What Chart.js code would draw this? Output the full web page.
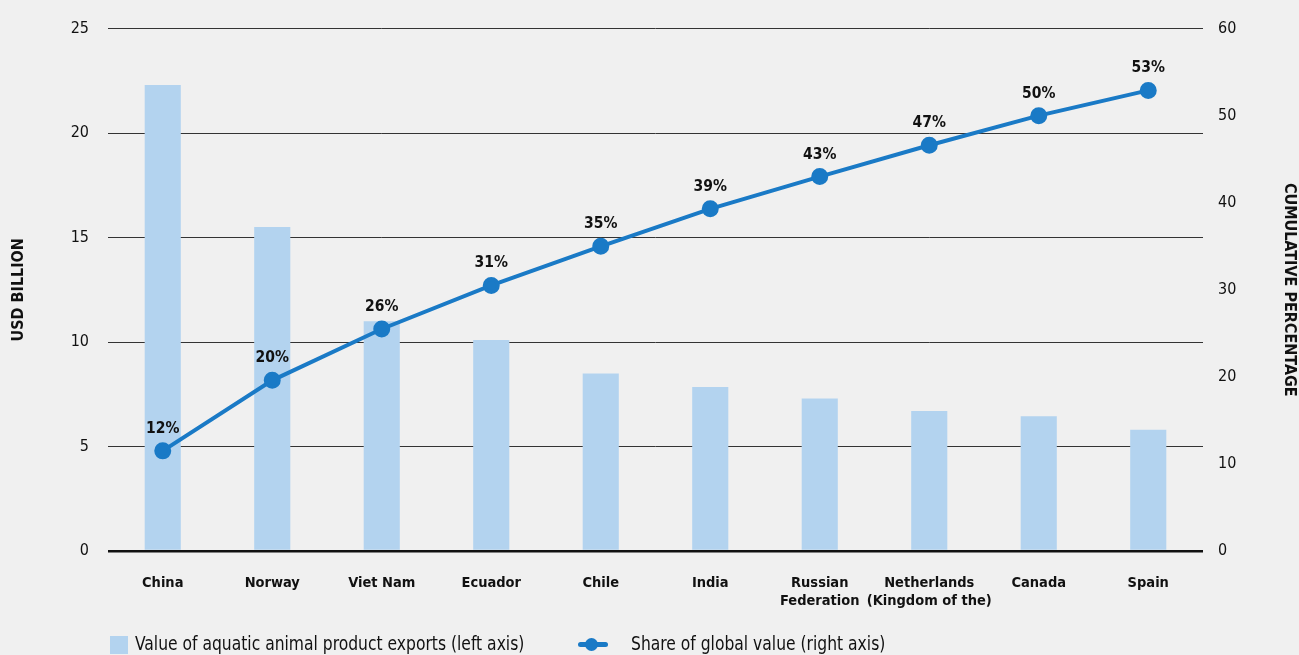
<!DOCTYPE html>
<html>
<head>
<meta charset="utf-8">
<script src="https://cdn.jsdelivr.net/npm/chart.js@4.4.1/dist/chart.umd.min.js"></script>
<style>
  html, body { margin: 0; padding: 0; background: #f0f0f0; }
  #wrap { position: relative; width: 1299px; height: 655px; overflow: hidden; }
  #legend { position: absolute; left: 0; top: 632px; width: 1299px; height: 23px;
    font-family: 'Liberation Sans Narrow', 'DejaVu Sans Condensed', 'Roboto', sans-serif;
    font-size: 19px; color: #111; }
  .item { position: absolute; top: 0; white-space: nowrap; line-height: 23px;
    transform: scaleX(0.91); transform-origin: left center; }
  .box { position: absolute; width: 18px; height: 18px; background: #b3d3ef; top: 4px; }
  .ln { position: absolute; width: 30px; height: 5px; background: #1a7ac6; top: 10px; border-radius: 3px; }
  .dot { position: absolute; width: 13px; height: 13px; border-radius: 50%; background: #1a7ac6; top: 6px; }
</style>
</head>
<body>
<div id="wrap">
  <canvas id="exportsChart" width="1299" height="655"></canvas>
  <div id="legend">
    <div class="box" style="left:110px"></div>
    <div class="item" style="left:135px">Value of aquatic animal product exports (left axis)</div>
    <div class="ln" style="left:578px"></div>
    <div class="dot" style="left:585px"></div>
    <div class="item" style="left:631px">Share of global value (right axis)</div>
  </div>
</div>
<script>
const countries = ["China", "Norway", "Viet Nam", "Ecuador", "Chile", "India",
    ["Russian", "Federation"], ["Netherlands", "(Kingdom of the)"], "Canada", "Spain"];
const exportValues = [22.3, 15.5, 11.0, 10.1, 8.5, 7.85, 7.3, 6.7, 6.45, 5.8];
const cumulativeShare = [11.5, 19.6, 25.5, 30.5, 35.0, 39.3, 43.0, 46.6, 50.0, 52.9];
const shareLabels = ["12%", "20%", "26%", "31%", "35%", "39%", "43%", "47%", "50%", "53%"];
const leftTicks = [0, 5, 10, 15, 20, 25];
const rightTicks = [0, 10, 20, 30, 40, 50, 60];

const FONT = "'Liberation Sans Narrow', 'DejaVu Sans Condensed', 'Roboto', sans-serif";

// labels above the line points
const pointLabels = {
    id: "pointLabels",
    afterDatasetsDraw(chart) {
        const meta = chart.getDatasetMeta(0);
        const c = chart.ctx;
        c.save();
        c.font = "bold 15.5px " + FONT;
        c.fillStyle = "#111";
        c.textAlign = "center";
        c.textBaseline = "middle";
        meta.data.forEach((pt, i) => {
            c.fillText(shareLabels[i], pt.x, pt.y - 22);
        });
        c.restore();
    },
};

const ctx = document.getElementById("exportsChart").getContext("2d");
const exportsChart = new Chart(ctx, {
    data: {
        labels: countries,
        datasets: [
            {
                type: "line",
                label: "Share of global value (right axis)",
                data: cumulativeShare,
                yAxisID: "y1",
                borderColor: "#1a7ac6",
                backgroundColor: "#1a7ac6",
                borderWidth: 4,
                pointRadius: 6.5,
                pointHoverRadius: 6.5,
                tension: 0,
                order: 0,
            },
            {
                type: "bar",
                label: "Value of aquatic animal product exports (left axis)",
                data: exportValues,
                yAxisID: "y",
                backgroundColor: "#b3d3ef",
                categoryPercentage: 1,
                barPercentage: 0.33,
                order: 1,
            },
        ],
    },
    options: {
        responsive: false,
        animation: false,
        layout: { padding: { top: 28, left: 0, right: 0, bottom: 0 } },
        scales: {
            x: {
                grid: { display: false },
                border: { display: false },
                ticks: {
                    color: "#111",
                    font: { family: FONT, size: 14.5, weight: "bold", lineHeight: 1.25 },
                    padding: 15,
                    maxRotation: 0,
                    autoSkip: false,
                },
                afterFit(scale) { scale.height = 104; },
            },
            y: {
                position: "left",
                min: 0,
                max: 25,
                afterBuildTicks(scale) { scale.ticks = leftTicks.map(v => ({ value: v })); },
                grid: {
                    color: (c) => (c.tick && c.tick.value === 0 ? "#111" : "#333"),
                    lineWidth: (c) => (c.tick && c.tick.value === 0 ? 2.5 : 1),
                    drawTicks: false,
                },
                border: { display: false },
                ticks: {
                    color: "#111",
                    font: { family: FONT, size: 16 },
                    padding: 19,
                },
                title: {
                    display: true,
                    text: "USD BILLION",
                    color: "#111",
                    font: { family: FONT, size: 16, weight: "bold" },
                    padding: { top: 9, bottom: 0 },
                },
                afterFit(scale) { scale.width = 108; },
            },
            y1: {
                position: "right",
                min: 0,
                max: 60,
                afterBuildTicks(scale) { scale.ticks = rightTicks.map(v => ({ value: v })); },
                grid: { display: false, drawTicks: false },
                border: { display: false },
                ticks: {
                    color: "#111",
                    font: { family: FONT, size: 16 },
                    padding: 15,
                },
                title: {
                    display: true,
                    text: "CUMULATIVE PERCENTAGE",
                    color: "#111",
                    font: { family: FONT, size: 16, weight: "bold" },
                    padding: 0,
                },
                afterFit(scale) { scale.width = 96; },
            },
        },
        plugins: {
            legend: { display: false },
            title: { display: false },
            tooltip: { enabled: false },
        },
    },
    plugins: [pointLabels],
});
</script>
</body>
</html>
